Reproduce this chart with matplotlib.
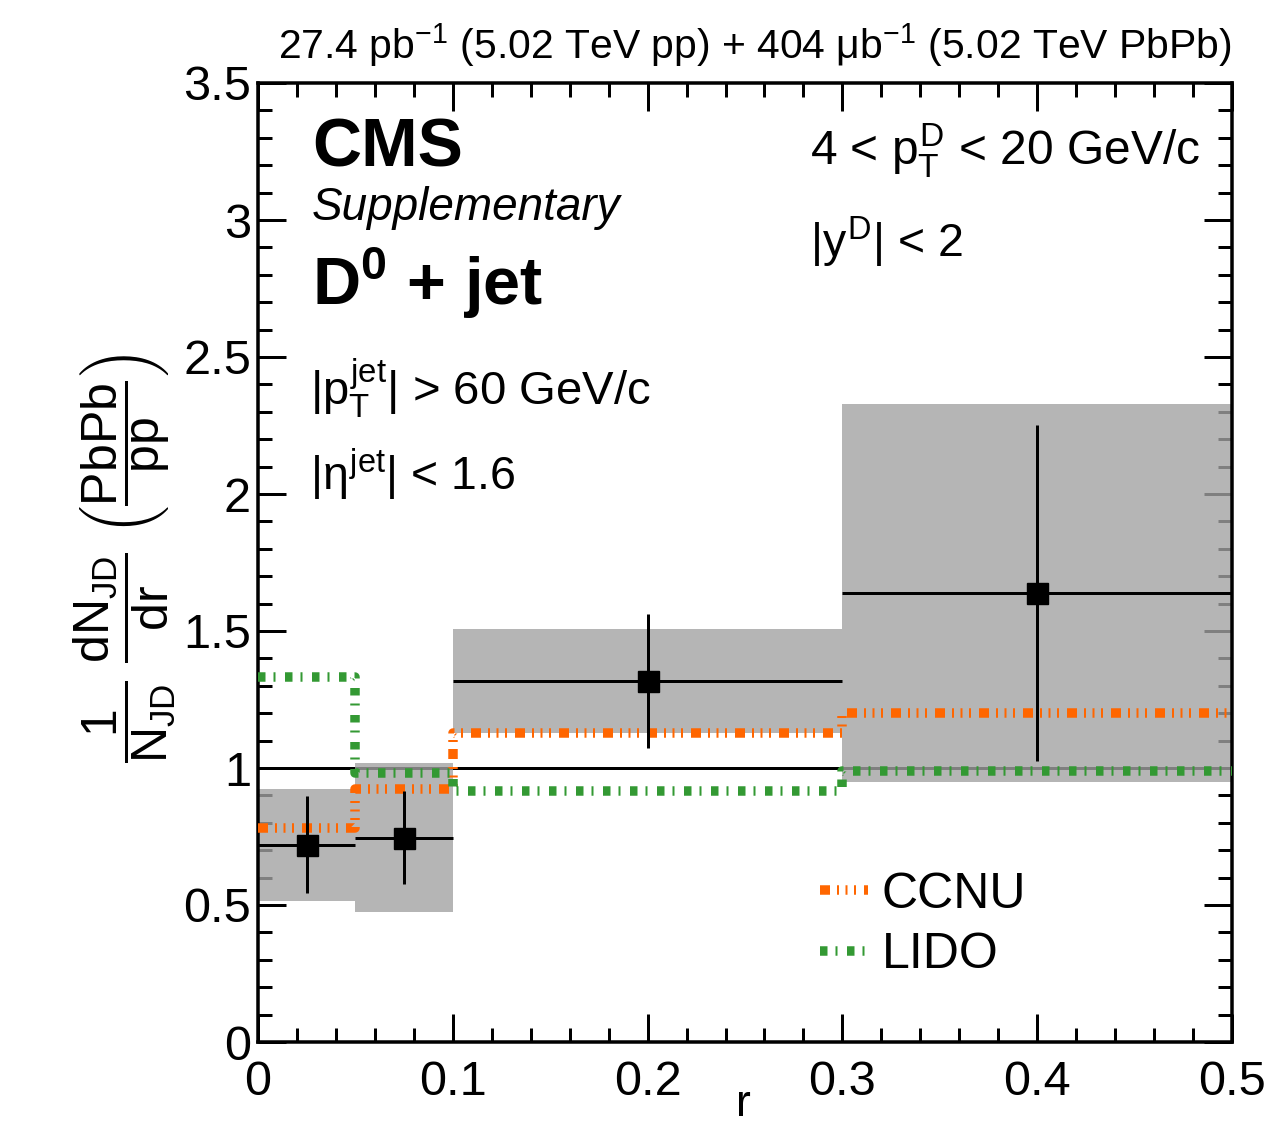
import matplotlib
matplotlib.use("Agg")
import matplotlib.pyplot as plt
from matplotlib.ticker import MultipleLocator
from matplotlib.patches import Rectangle

# ---------------- data ----------------
bin_edges = [0.0, 0.05, 0.1, 0.3, 0.5]
r_centers = [0.025, 0.075, 0.2, 0.4]
ratio = [0.719, 0.745, 1.318, 1.639]
stat_err = [0.177, 0.170, 0.245, 0.613]
sys_err = [0.204, 0.272, 0.190, 0.690]
ccnu = [0.781, 0.923, 1.128, 1.201]
lido = [1.332, 0.982, 0.916, 0.989]

xticks = [0, 0.1, 0.2, 0.3, 0.4, 0.5]
xtick_labels = ["0", "0.1", "0.2", "0.3", "0.4", "0.5"]
yticks = [0, 0.5, 1, 1.5, 2, 2.5, 3, 3.5]
ytick_labels = ["0", "0.5", "1", "1.5", "2", "2.5", "3", "3.5"]

# ---------------- style ----------------
plt.rcParams['font.family'] = ['Liberation Sans', 'DejaVu Sans']
plt.rcParams['mathtext.fontset'] = 'custom'
plt.rcParams['mathtext.rm'] = 'Liberation Sans'
plt.rcParams['mathtext.it'] = 'Liberation Sans'
plt.rcParams['mathtext.bf'] = 'Liberation Sans:bold'
plt.rcParams['mathtext.sf'] = 'Liberation Sans'
plt.rcParams['lines.scale_dashes'] = False

W, H = 1281, 1125
DPI = 100
fig = plt.figure(figsize=(W / DPI, H / DPI), dpi=DPI)
L, R, B, T = 258, 1232, 1042, 83
ax = fig.add_axes([L / W, 1 - B / H, (R - L) / W, (B - T) / H])

PX = 72.0 / DPI  # points per pixel

def fx(x):
    return x / W

def fy(y):
    return 1 - y / H

# reference line at 1
ax.axhline(1.0, color='black', lw=3 * PX, zorder=1)

# systematic boxes
for i in range(len(r_centers)):
    lo, hi = bin_edges[i], bin_edges[i + 1]
    ax.add_patch(Rectangle((lo, ratio[i] - sys_err[i]), hi - lo, 2 * sys_err[i],
                           facecolor=(0.635, 0.635, 0.635), alpha=0.79,
                           edgecolor='none', zorder=2))

# model curves
orange = '#ff6600'
green = '#339933'
lw_model = 9.5 * PX
ccnu_dash = (0, [d * PX for d in [10, 7, 2, 6.5, 2, 6.5, 2, 8]])
lido_dash = (0, [d * PX for d in [7.5, 8, 2, 9.5]])

ax.step(bin_edges, ccnu + [ccnu[-1]], where='post', color=orange, lw=lw_model,
        linestyle=ccnu_dash, dash_capstyle='butt', zorder=3, label='CCNU')
ax.step(bin_edges, lido + [lido[-1]], where='post', color=green, lw=lw_model,
        linestyle=lido_dash, dash_capstyle='butt', zorder=3, label='LIDO')

# data points
xerr = [[c - bin_edges[i] for i, c in enumerate(r_centers)],
        [bin_edges[i + 1] - c for i, c in enumerate(r_centers)]]
ax.errorbar(r_centers, ratio, yerr=stat_err, xerr=xerr, fmt='s', color='black',
            ms=21 * PX, elinewidth=3 * PX, capsize=0, zorder=5)

# axes
ax.set_xlim(0, 0.5)
ax.set_ylim(0, 3.5)
ax.set_xticks(xticks)
ax.set_xticklabels(xtick_labels)
ax.set_yticks(yticks)
ax.set_yticklabels(ytick_labels)
ax.xaxis.set_minor_locator(MultipleLocator(0.02))
ax.yaxis.set_minor_locator(MultipleLocator(0.1))
ax.tick_params(which='both', direction='in', top=True, right=True, width=3 * PX)
ax.tick_params(which='major', length=28 * PX, labelsize=35)
ax.tick_params(which='minor', length=14 * PX)
ax.tick_params(axis='x', which='major', pad=13)
ax.tick_params(axis='y', which='major', pad=5)
for s in ax.spines.values():
    s.set_linewidth(3.5 * PX)

# legend
leg = ax.legend(loc='center left', bbox_to_anchor=((820 - L) / (R - L), (B - 925) / (B - T)),
                frameon=False, fontsize=36, handlelength=0.96, handletextpad=0.28,
                labelspacing=0.3, borderpad=0, borderaxespad=0)

# texts
fig.text(fx(1232), fy(59), r"27.4 pb$^{-1}$ (5.02 TeV pp) + 404 μb$^{-1}$ (5.02 TeV PbPb)",
         ha='right', va='baseline', fontsize=29.4)
fig.text(fx(312), fy(167), "CMS", ha='left', va='baseline', fontsize=49, fontweight='bold')
fig.text(fx(312), fy(220), "Supplementary", ha='left', va='baseline', fontsize=33, fontstyle='italic')
fig.text(fx(312), fy(305), r"D$^{\mathbf{0}}$ + jet", ha='left', va='baseline', fontsize=48,
         fontweight='bold')
fig.text(fx(310), fy(405), r"|$p_{T}^{jet}$| > 60 GeV/c", ha='left', va='baseline', fontsize=34)
fig.text(fx(310), fy(490), r"|$\eta^{jet}$| < 1.6", ha='left', va='baseline', fontsize=33.5)
fig.text(fx(810), fy(165), r"4 < $p_{T}^{D}$ < 20 GeV/c", ha='left', va='baseline', fontsize=34.5)
fig.text(fx(810), fy(257), r"|$y^{D}$| < 2", ha='left', va='baseline', fontsize=33.5)

fig.text(fx(743), fy(1116), "r", ha='center', va='baseline', fontsize=32)
fig.text(fx(125), fy(558),
         r"$\dfrac{1}{N_{JD}}\ \dfrac{dN_{JD}}{dr}\ \left(\dfrac{PbPb}{pp}\right)$",
         ha='center', va='center', rotation=90, fontsize=36)

fig.savefig("out.png", dpi=DPI)
